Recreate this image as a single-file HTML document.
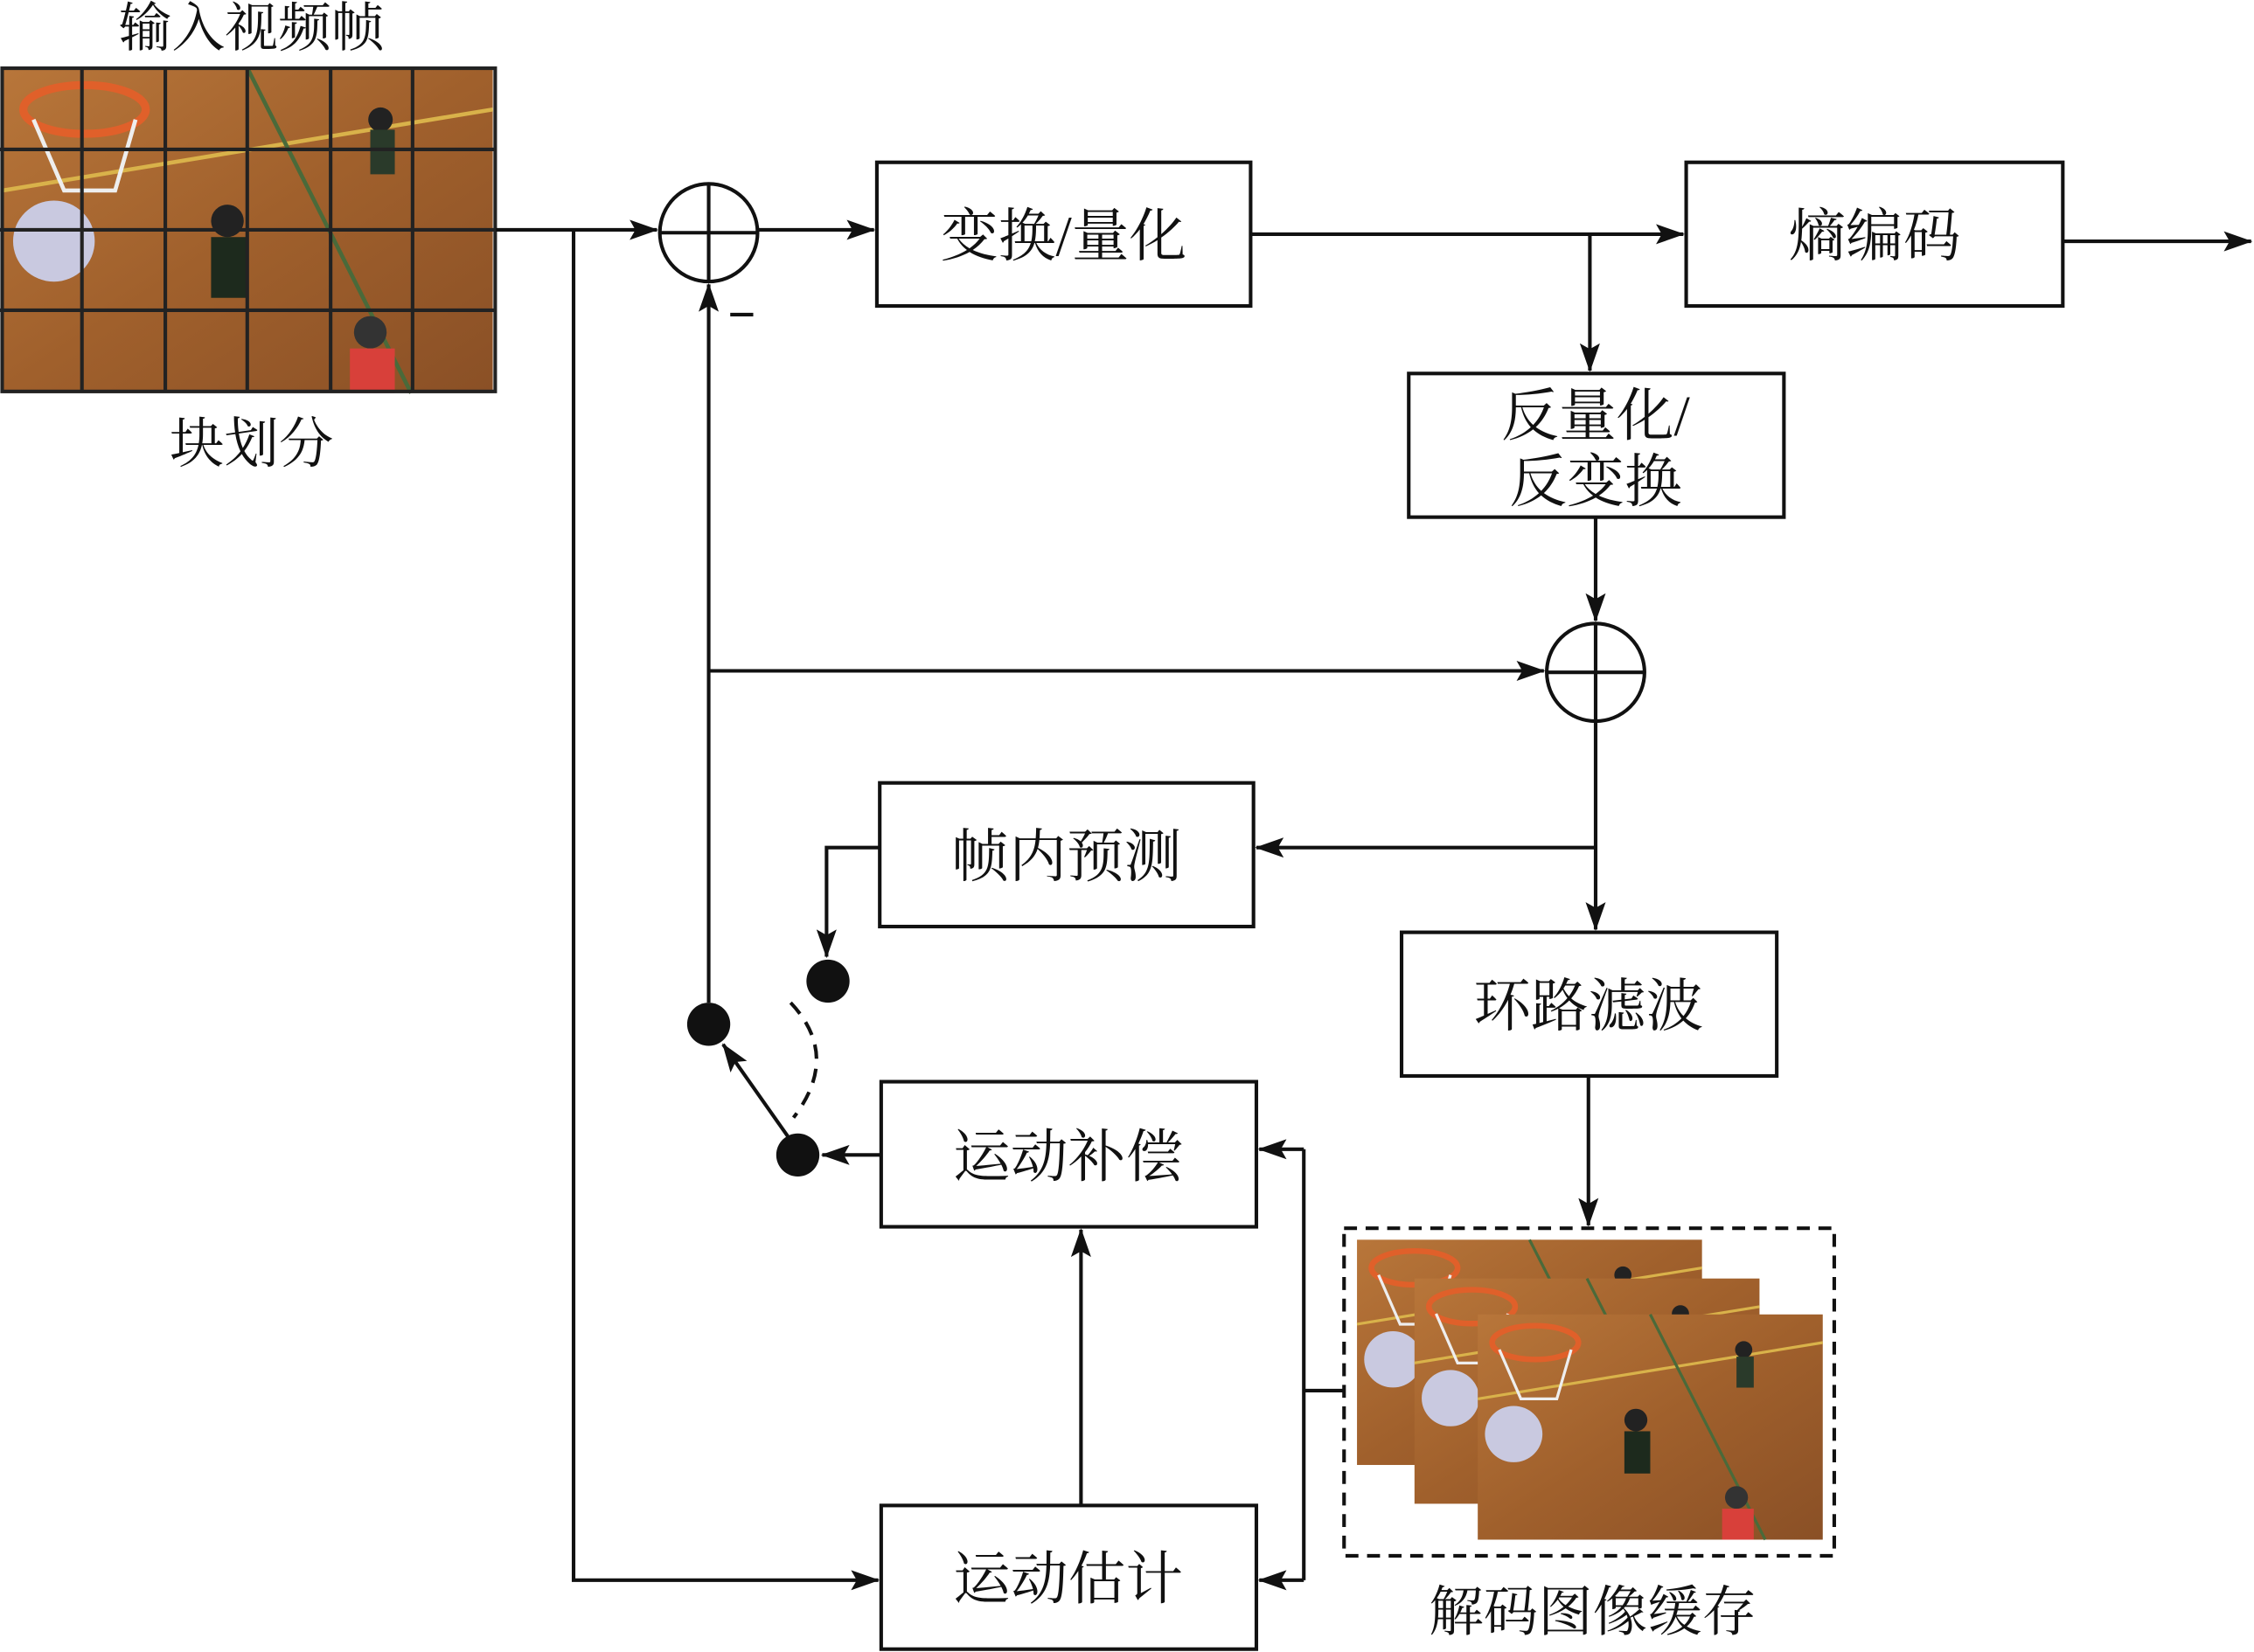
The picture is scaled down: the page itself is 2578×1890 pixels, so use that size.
<!DOCTYPE html>
<html><head><meta charset="utf-8"><style>
html,body{margin:0;padding:0;background:#fff;}
svg{display:block;}
text{font-family:"Liberation Serif","Noto Serif CJK SC","Noto Sans CJK SC",serif;fill:#111;}
</style></head><body>
<svg width="2578" height="1890" viewBox="0 0 1568 1150" preserveAspectRatio="none" xmlns="http://www.w3.org/2000/svg">
<defs>
<marker id="b" viewBox="0 0 20 14" markerWidth="20" markerHeight="14" refX="19" refY="7" orient="auto" markerUnits="userSpaceOnUse"><path d="M0,0 L20,7 L0,14 L4,7 z" fill="#111"/></marker>
<linearGradient id="floor" x1="0" y1="0" x2="1" y2="1">
<stop offset="0" stop-color="#b8763a"/><stop offset="0.5" stop-color="#a0602c"/><stop offset="1" stop-color="#8a5026"/></linearGradient>
<g id="photo">
<rect x="0" y="0" width="240" height="160" fill="url(#floor)"/>
<line x1="0" y1="60" x2="240" y2="20" stroke="#d9b24a" stroke-width="2"/>
<line x1="120" y1="0" x2="200" y2="160" stroke="#4a6a3a" stroke-width="2"/>
<ellipse cx="40" cy="20" rx="30" ry="12" fill="none" stroke="#e0602a" stroke-width="4"/>
<path d="M15,25 L30,60 L55,60 L65,25" fill="none" stroke="#eee" stroke-width="2"/>
<circle cx="25" cy="85" r="20" fill="#c9c9e0"/>
<circle cx="110" cy="75" r="8" fill="#222"/><rect x="102" y="83" width="18" height="30" fill="#1d2a1d"/>
<circle cx="180" cy="130" r="8" fill="#333"/><rect x="170" y="138" width="22" height="22" fill="#d8403a"/>
<circle cx="185" cy="25" r="6" fill="#222"/><rect x="180" y="30" width="12" height="22" fill="#2a3a2a"/>
</g>
</defs>
<rect width="1568" height="1150" fill="#fff"/>

<text x="175" y="32" font-size="37" text-anchor="middle">输入视频帧</text>
<g transform="translate(2,48) scale(1.42,1.41)"><use href="#photo"/></g>
<g stroke="#222" stroke-width="2.5" fill="none">
<rect x="1.5" y="47.5" width="343" height="225"/>
<line x1="57" y1="47" x2="57" y2="273"/><line x1="115" y1="47" x2="115" y2="273"/>
<line x1="172" y1="47" x2="172" y2="273"/><line x1="230" y1="47" x2="230" y2="273"/>
<line x1="287" y1="47" x2="287" y2="273"/>
<line x1="0" y1="104" x2="345" y2="104"/><line x1="0" y1="160" x2="345" y2="160"/>
<line x1="0" y1="216" x2="345" y2="216"/>
</g>
<text x="175" y="322" font-size="38" text-anchor="middle">块划分</text>

<g stroke="#111" stroke-width="2.5" fill="none">
<rect x="610" y="113" width="260" height="100"/>
<rect x="1173" y="113" width="262" height="100"/>
<rect x="980" y="260" width="261" height="100"/>
<rect x="612" y="545" width="260" height="100"/>
<rect x="975" y="649" width="261" height="100"/>
<rect x="613" y="753" width="261" height="101"/>
<rect x="613" y="1048" width="261" height="100"/>
<circle cx="493" cy="162" r="34"/><line x1="459" y1="162" x2="527" y2="162"/><line x1="493" y1="128" x2="493" y2="196"/>
<circle cx="1110" cy="468" r="34"/><line x1="1076" y1="468" x2="1144" y2="468"/><line x1="1110" y1="434" x2="1110" y2="502"/>
<line x1="345" y1="160" x2="457" y2="160" marker-end="url(#b)"/>
<line x1="527" y1="160" x2="608" y2="160" marker-end="url(#b)"/>
<line x1="870" y1="163" x2="1171" y2="163" marker-end="url(#b)"/>
<line x1="1435" y1="168" x2="1566" y2="168" marker-end="url(#b)"/>
<line x1="1106" y1="163" x2="1106" y2="258" marker-end="url(#b)"/>
<line x1="1110" y1="360" x2="1110" y2="432" marker-end="url(#b)"/>
<line x1="493" y1="467" x2="1074" y2="467" marker-end="url(#b)"/>
<line x1="493" y1="698" x2="493" y2="198" marker-end="url(#b)"/>
<line x1="1110" y1="502" x2="1110" y2="647" marker-end="url(#b)"/>
<line x1="1110" y1="590" x2="874" y2="590" marker-end="url(#b)"/>
<polyline points="612,590 575,590 575,666" marker-end="url(#b)"/>
<line x1="1105" y1="749" x2="1105" y2="853" marker-end="url(#b)"/>
<line x1="613" y1="804" x2="572" y2="804" marker-end="url(#b)"/>
<line x1="548" y1="791" x2="503" y2="727" marker-end="url(#b)"/>
<path d="M550,698 Q585,735 552,778" stroke-dasharray="10,7"/>
<polyline points="399,160 399,1100 611,1100" marker-end="url(#b)"/>
<line x1="752" y1="1048" x2="752" y2="856" marker-end="url(#b)"/>
<polyline points="935,968 907,968"/>
<polyline points="907,800 907,1100"/>
<line x1="907" y1="800" x2="876" y2="800" marker-end="url(#b)"/>
<line x1="907" y1="1100" x2="876" y2="1100" marker-end="url(#b)"/>
<line x1="508" y1="219" x2="524" y2="219"/>
</g>
<circle cx="576" cy="683" r="15" fill="#111"/>
<circle cx="493" cy="713" r="15" fill="#111"/>
<circle cx="555" cy="804" r="15" fill="#111"/>

<rect x="935" y="855" width="341" height="228" fill="none" stroke="#111" stroke-width="2.5" stroke-dasharray="9,6"/>
<g transform="translate(944,863) scale(1,0.98)"><use href="#photo"/></g>
<g transform="translate(984,890) scale(1,0.98)"><use href="#photo"/></g>
<g transform="translate(1028,915) scale(1,0.98)"><use href="#photo"/></g>
<text x="1108" y="1135" font-size="38" text-anchor="middle">解码图像缓存</text>

<g font-size="40" text-anchor="middle">
<text x="740" y="178">变换/量化</text>
<text x="1304" y="178">熵编码</text>
<text x="1110" y="303">反量化/</text>
<text x="1110" y="349">反变换</text>
<text x="742" y="610">帧内预测</text>
<text x="1105" y="714">环路滤波</text>
<text x="743" y="819">运动补偿</text>
<text x="743" y="1113">运动估计</text>
</g>
</svg>
</body></html>
